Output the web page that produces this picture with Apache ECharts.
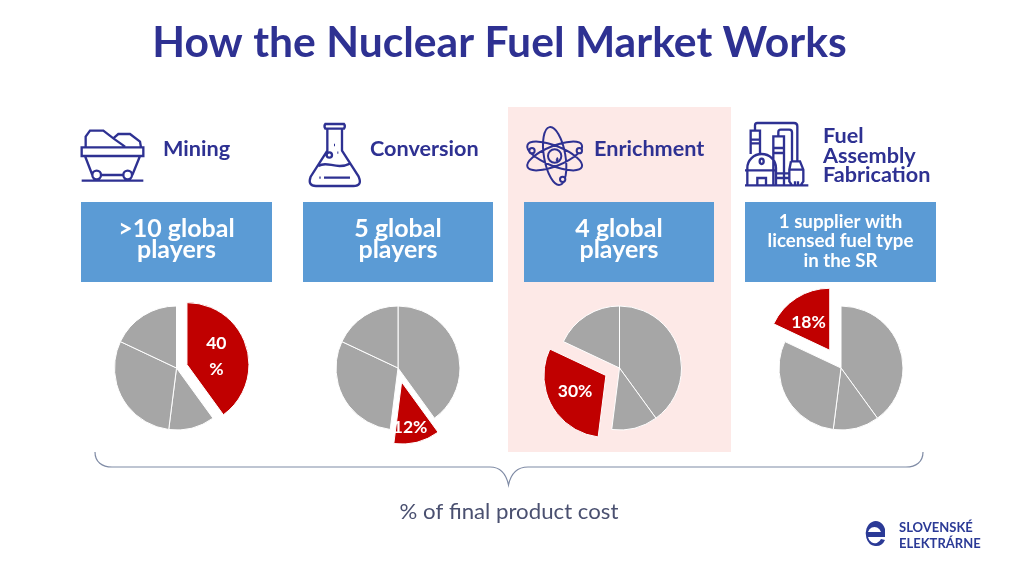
<!DOCTYPE html>
<html><head><meta charset="utf-8">
<style>html,body{margin:0;padding:0;background:#fff}#c{width:1024px;height:581px}</style>
<script src="https://cdn.jsdelivr.net/npm/echarts@6/dist/echarts.min.js"></script>
</head><body><div id="c"></div>
<script>
const stageNames = ['Mining','Conversion','Enrichment','Fuel\nAssembly\nFabrication'];
const playerNotes = ['>10 global\nplayers','5 global\nplayers','4 global\nplayers','1 supplier with\nlicensed fuel type\nin the SR'];
const costCategories = ['Mining','Conversion','Enrichment','Fuel Assembly Fabrication'];
const costShares = [40,12,30,18];
const shareLabels = ['40\n%','12%','30%','18%'];
const titleText = 'How the Nuclear Fuel Market Works';
const footText = '% of final product cost';
const logoLines = ['SLOVENSKÉ','ELEKTRÁRNE'];

const NAVY='#2E3192', BLUE='#5B9BD5', GREY='#A6A6A6', RED='#C00000', PINK='#FDE9E7', LOGO='#2B3A96';
const chart = echarts.init(document.getElementById('c'),null,{renderer:'canvas'});

const ring = (x,y,r,ry)=>`M${x-r} ${y}A${r} ${ry||r} 0 1 0 ${x+r} ${y}A${r} ${ry||r} 0 1 0 ${x-r} ${y}`;
const orbit = (cx,cy,rx,ry,deg)=>{
  const a=deg*Math.PI/180, dx=rx*Math.cos(a), dy=rx*Math.sin(a);
  return `M${cx-dx} ${cy-dy}A${rx} ${ry} ${deg} 1 0 ${cx+dx} ${cy+dy}A${rx} ${ry} ${deg} 1 0 ${cx-dx} ${cy-dy}`;
};
// line icons, in 3x coordinates from an origin
const icons = {
 cart:[70,110,'M35 112H220V138H35ZM45 138L67 195M94 195H160M187 195L210 138M47 112V80L60 62H100L130 85L145 72H180L210 95L213 112M130 85L165 110M35 212H220M95 112H103'+ring(80,195,13)+ring(173,195,13)],
 flask:[70,110,'M766 42H822Q827 48 822 56H766Q761 48 766 42ZM772 56V122L722 200Q712 228 738 228H850Q878 228 866 200L816 122V56M745 168C775 150 795 182 842 160M762 203H840M748 203H752'+ring(778,135,8)+'M792 105H795M802 128H805'],
 atom:[522,120,orbit(98,108,88,32,80)+orbit(98,108,88,30,22)+orbit(98,108,88,30,-22)+ring(98,108,20)+'M104 113Q110 118 102 122'],
 atomDots:[522,120,ring(30,92,8)+ring(172,92,8)+ring(122,178,8)],
 plant:[740,118,'M15 202H205M22 202V150A43 42 0 0 1 108 150V202M15 157H108M52 202V180H78V202'+ring(65,130,6,8)+'M32 108V38H60V108M32 65H60M32 76H60M100 202V55H132V202M100 90H132M100 105H132M108 166H150M108 180H150M45 38V22Q45 15 52 15H162Q172 15 172 25V130M115 55V42Q115 35 122 35H148Q156 35 156 43V130M153 130H180L190 155V190L182 202M153 130L148 155V190L156 202M148 155H190M165 202V190M174 202V190']
};
for (const k in icons) echarts.graphic.registerShape('icon_'+k, echarts.graphic.extendPath(icons[k][2], {}));
const iconEl = k => ({type:'icon_'+k, x:icons[k][0], y:icons[k][1], scaleX:1/3, scaleY:1/3,
  shape:{}, style:{fill:k==='atomDots'?PINK:'none',stroke:NAVY,lineWidth:k==='atom'||k==='atomDots'?6:7}});
echarts.graphic.registerShape('brace',echarts.graphic.extendPath('M95 452C95 462 102 467 112 467H490C499 467 506 473 508.5 485C511 473 518 467 528 467H906C916 467 923 462 923 452',{}));
echarts.graphic.registerShape('logoE',echarts.graphic.extendPath('M885 529A10 12.5 0 1 0 875 546A10 11 0 0 0 885 540L881 539A7 8 0 0 1 868 537H885ZM868 532A7 8 0 0 1 881 532Z',{}));

const pieCenters = [[176.5,368],[398,368],[619.5,368],[841,368]];
const pieExplode = [11,14.5,15.5,21];
const boxX = [[81,272],[303,493],[524,714],[745,936]];
const nameX = [163,370,594,823];
const nameY = [149.5,149.5,149.5,156];
const labelShift = [[-3,2],[0,12],[-1,0],[-3,1]];

const graphics = [
 {type:'rect',z:-10,shape:{x:508,y:107,width:223,height:345},style:{fill:PINK}},
 {type:'text',x:499.5,y:43,scaleX:1.015,style:{text:titleText,fill:NAVY,font:'bold 42px Lato',textAlign:'center',textVerticalAlign:'middle'}},
 iconEl('cart'),iconEl('flask'),iconEl('atom'),iconEl('atomDots'),iconEl('plant'),
 {type:'brace',shape:{},style:{fill:'none',stroke:'#7F8BA5',lineWidth:1.2}},
 {type:'text',x:509,y:512,scaleX:1.01,style:{text:footText,fill:'#4A5070',font:'22px Lato',textAlign:'center',textVerticalAlign:'middle'}},
 {type:'logoE',shape:{},style:{fill:LOGO}},
 {type:'text',x:899,y:528,style:{text:logoLines[0],fill:LOGO,font:'bold 13px Lato',textVerticalAlign:'middle'}},
 {type:'text',x:899,y:544,style:{text:logoLines[1],fill:LOGO,font:'bold 13px Lato',textVerticalAlign:'middle'}}
];
stageNames.forEach((s,i)=>{
  graphics.push({type:'text',x:nameX[i],y:nameY[i],scaleX:1.03,style:{text:s,fill:NAVY,font:'bold 21px Lato',lineHeight:19.5,textVerticalAlign:'middle'}});
  graphics.push({type:'rect',shape:{x:boxX[i][0],y:202,width:boxX[i][1]-boxX[i][0],height:80},style:{fill:BLUE}});
  const small = i===3;
  graphics.push({type:'text',x:(boxX[i][0]+boxX[i][1])/2,y:small?241:240,scaleX:small?1:1.04,style:{text:playerNotes[i],fill:'#fff',
    font:small?'bold 18.7px Lato':'bold 24px Lato',lineHeight:small?19.5:21,textAlign:'center',textVerticalAlign:'middle'}});
});

const series = pieCenters.map((c,i)=>({
  type:'pie',center:c,radius:[0,62],startAngle:90,clockwise:true,selectedMode:'multiple',selectedOffset:pieExplode[i],
  silent:true,animation:false,avoidLabelOverlap:false,labelLine:{show:false},
  labelLayout:{dx:labelShift[i][0],dy:labelShift[i][1]},
  itemStyle:{color:GREY,borderColor:'#fff',borderWidth:1},
  select:{itemStyle:{color:RED,borderColor:'#fff',borderWidth:1}},
  label:{show:false},
  data:costCategories.map((n,j)=>({
    name:n,value:costShares[j],selected:j===i,
    itemStyle:{color:j===i?RED:GREY},
    label:j===i?{show:true,position:'inside',formatter:shareLabels[i],color:'#fff',fontFamily:'Lato',fontWeight:'bold',fontSize:17.5,lineHeight:26}:{show:false}
  }))
}));
chart.setOption({animation:false,backgroundColor:'#fff',graphic:{elements:graphics},series});
</script></body></html>
